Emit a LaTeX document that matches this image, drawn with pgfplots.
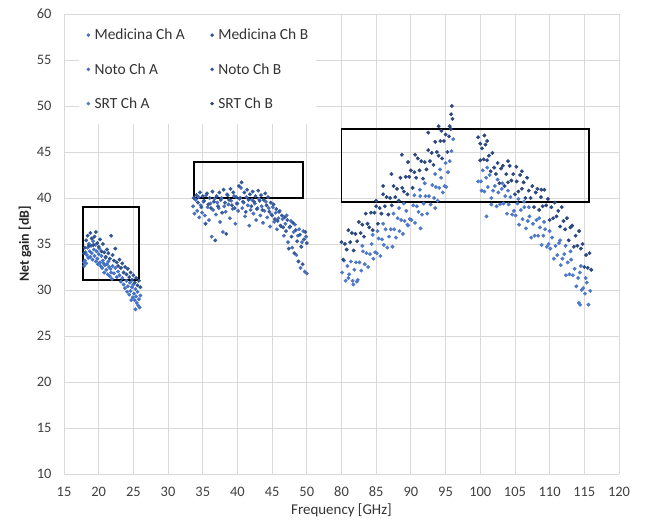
\documentclass[border=0pt]{standalone}
\usepackage{fontspec}
\setmainfont{Carlito}
\usepackage{pgfplots}
\usepackage{pgfplotstable}
\pgfplotsset{compat=1.18}

\definecolor{gridgray}{HTML}{D9D9D9}
\definecolor{medA}{HTML}{4472C4}
\definecolor{medB}{HTML}{2F528F}
\definecolor{notoA}{HTML}{4A6EBA}
\definecolor{notoB}{HTML}{34589A}
\definecolor{srtA}{HTML}{4E78C8}
\definecolor{srtB}{HTML}{2B4780}

% K band (Medicina)
\pgfplotstableread[row sep=\\]{f g\\
17.9 33.0\\ 17.9 32.6\\ 18.0 33.2\\ 18.1 34.1\\ 18.2 32.9\\ 18.3 33.8\\ 18.4 34.6\\ 18.5 33.5\\ 18.6 35.0\\ 18.7 34.2\\
18.8 33.6\\ 18.9 34.8\\ 19.0 34.0\\ 19.1 33.3\\ 19.2 35.3\\ 19.3 34.4\\ 19.4 33.7\\ 19.5 34.9\\ 19.6 33.1\\ 19.7 34.2\\
19.8 33.4\\ 19.9 32.8\\ 20.0 33.9\\ 20.1 34.5\\ 20.2 33.0\\ 20.3 32.6\\ 20.4 33.7\\ 20.5 32.4\\ 20.6 33.2\\ 20.7 32.9\\
20.8 31.9\\ 20.9 32.7\\ 21.0 33.5\\ 21.1 32.2\\ 21.2 32.8\\ 21.3 31.7\\ 21.4 33.1\\ 21.5 32.5\\ 21.6 31.5\\ 21.7 32.3\\
21.8 31.9\\ 21.9 31.2\\ 22.0 32.6\\ 22.2 31.8\\ 22.4 32.4\\ 22.6 31.4\\ 22.8 32.0\\ 23.0 31.6\\ 23.2 30.9\\ 23.4 31.3\\
23.6 30.6\\ 23.8 30.2\\ 24.0 31.0\\ 24.1 29.8\\ 24.2 30.4\\ 24.4 29.5\\ 24.5 30.8\\ 24.6 29.9\\ 24.7 28.9\\ 24.8 30.3\\
24.9 29.2\\ 25.0 30.6\\ 25.1 29.6\\ 25.2 28.9\\ 25.3 30.1\\ 25.4 29.3\\ 25.5 28.6\\ 25.6 29.8\\ 25.7 28.3\\ 25.8 29.0\\
25.9 28.1\\ 26.0 29.4\\ 25.3 27.9\\
}\medA
\pgfplotstableread[row sep=\\]{f g\\
17.9 34.0\\ 18.0 34.6\\ 18.2 35.4\\ 18.4 35.9\\ 18.6 34.8\\ 18.8 36.2\\ 19.0 35.6\\ 19.2 34.9\\ 19.4 35.8\\ 19.6 36.3\\
19.8 35.1\\ 20.0 34.7\\ 20.2 35.5\\ 20.4 34.2\\ 20.6 35.0\\ 20.8 34.1\\ 21.0 33.6\\ 21.2 34.4\\ 21.4 34.0\\ 21.6 33.4\\
21.8 35.9\\ 22.0 33.8\\ 22.2 33.2\\ 22.4 34.5\\ 22.6 33.0\\ 22.8 32.6\\ 23.0 33.3\\ 23.2 32.4\\ 23.4 32.9\\ 23.6 31.9\\
23.8 32.5\\ 24.0 31.7\\ 24.2 32.3\\ 24.4 31.4\\ 24.6 31.9\\ 24.8 31.1\\ 25.0 31.6\\ 25.2 30.8\\ 25.4 31.3\\ 25.6 30.5\\
25.8 31.0\\ 26.0 30.3\\
}\medB

% Q band (Noto)
\pgfplotstableread[row sep=\\]{f g\\
33.6 39.1\\ 33.8 38.3\\ 34.0 39.8\\ 34.2 38.6\\ 34.4 40.1\\ 34.5 37.9\\ 34.7 39.2\\ 34.9 38.4\\ 35.1 39.6\\ 35.3 38.1\\
35.5 40.3\\ 35.7 39.0\\ 35.9 37.6\\ 36.1 39.4\\ 36.3 35.8\\ 36.5 38.7\\ 36.7 39.9\\ 36.9 38.2\\ 37.1 39.5\\ 37.3 38.9\\
37.5 37.4\\ 37.7 40.0\\ 37.9 36.3\\ 38.1 39.1\\ 38.3 38.5\\ 38.5 40.4\\ 38.7 39.3\\ 38.9 37.8\\ 39.1 39.7\\ 39.3 38.8\\
39.5 40.2\\ 39.7 37.2\\ 39.9 39.4\\ 40.1 38.6\\ 40.3 39.9\\ 40.5 41.1\\ 40.7 38.9\\ 40.9 39.5\\ 41.1 38.0\\ 41.3 40.1\\
41.5 39.2\\ 41.7 37.0\\ 41.9 38.7\\ 42.1 39.8\\ 42.3 38.3\\ 42.5 39.4\\ 42.7 37.6\\ 42.9 38.9\\ 43.1 39.9\\ 43.3 38.1\\
43.5 39.1\\ 43.7 37.3\\ 43.9 38.6\\ 44.1 39.6\\ 44.3 37.9\\ 44.5 38.9\\ 44.7 36.9\\ 44.9 38.2\\ 45.1 39.0\\ 45.3 37.4\\
45.5 38.4\\ 45.7 36.6\\ 45.9 37.8\\ 46.1 38.6\\ 46.3 36.9\\ 46.5 37.7\\ 46.7 35.9\\ 46.9 37.2\\ 47.1 38.1\\ 47.3 35.2\\
47.5 36.8\\ 47.7 37.5\\ 47.9 34.6\\ 48.1 36.3\\ 48.3 37.1\\ 48.5 33.8\\ 48.7 35.9\\ 48.9 36.6\\ 49.1 32.4\\ 49.3 35.2\\
49.5 36.4\\ 49.7 32.0\\ 49.9 35.8\\ 50.0 31.8\\
}\notoA
\pgfplotstableread[row sep=\\]{f g\\
33.7 40.0\\ 34.1 40.3\\ 34.3 39.5\\ 34.6 40.6\\ 34.8 39.0\\ 35.0 40.2\\ 35.2 39.7\\ 35.4 37.2\\ 35.6 40.5\\ 35.8 39.3\\
36.0 40.0\\ 36.2 38.9\\ 36.4 40.7\\ 36.6 39.6\\ 36.8 35.4\\ 37.0 40.2\\ 37.2 39.1\\ 37.4 40.6\\ 37.6 39.8\\ 37.8 38.4\\
38.0 40.9\\ 38.2 39.5\\ 38.4 36.1\\ 38.6 40.3\\ 38.8 39.8\\ 39.0 41.0\\ 39.2 39.2\\ 39.4 40.6\\ 39.6 38.9\\ 39.8 40.1\\
40.0 39.4\\ 40.2 41.3\\ 40.4 40.0\\ 40.6 41.7\\ 40.8 39.6\\ 41.0 40.6\\ 41.2 38.5\\ 41.4 40.9\\ 41.6 39.8\\ 41.8 40.4\\
42.0 39.1\\ 42.2 40.7\\ 42.4 39.6\\ 42.6 40.2\\ 42.8 38.8\\ 43.0 40.8\\ 43.2 39.7\\ 43.4 40.3\\ 43.6 38.7\\ 43.8 39.8\\
44.0 40.5\\ 44.2 39.2\\ 44.4 40.1\\ 44.6 38.5\\ 44.8 39.5\\ 45.0 38.1\\ 45.2 39.3\\ 45.4 37.7\\ 45.6 38.8\\ 45.8 37.5\\
46.0 38.5\\ 46.2 37.0\\ 46.4 38.1\\ 46.6 36.8\\ 46.8 37.9\\ 47.0 36.4\\ 47.2 37.6\\ 47.4 34.5\\ 47.6 36.9\\ 47.8 35.8\\
48.0 37.3\\ 48.2 34.0\\ 48.4 36.5\\ 48.6 35.3\\ 48.8 33.1\\ 49.0 36.0\\ 49.2 34.7\\ 49.4 32.8\\ 49.6 35.5\\ 49.8 36.3\\
50.0 35.1\\
}\notoB

% W band (SRT)
\pgfplotstableread[row sep=\\]{f g\\
80.10 31.9\\ 80.35 33.2\\ 80.60 31.0\\ 80.85 32.6\\ 81.10 31.7\\ 81.35 33.1\\ 81.60 31.0\\ 81.85 32.2\\ 82.10 33.0\\ 82.35 31.1\\
82.60 33.0\\ 82.85 32.1\\ 83.10 34.2\\ 83.35 32.8\\ 83.60 34.0\\ 83.85 32.5\\ 84.10 33.9\\ 84.35 35.0\\ 84.60 33.4\\ 84.85 34.1\\
85.10 34.0\\ 85.35 35.6\\ 85.60 33.7\\ 85.85 35.5\\ 86.10 34.9\\ 86.35 36.6\\ 86.60 34.6\\ 86.85 35.8\\ 87.10 36.6\\ 87.35 34.7\\
87.60 36.6\\ 87.85 35.7\\ 88.10 37.8\\ 88.35 36.4\\ 88.60 37.6\\ 88.85 36.1\\ 89.10 37.5\\ 89.35 38.6\\ 89.60 37.0\\ 89.85 37.7\\
90.10 37.6\\ 90.35 39.2\\ 90.60 37.3\\ 90.85 39.1\\ 91.10 38.5\\ 91.35 40.2\\ 91.60 38.2\\ 91.85 39.4\\ 92.10 40.2\\ 92.35 38.3\\
92.60 40.2\\ 92.85 39.3\\ 93.10 41.4\\ 93.35 40.0\\ 93.60 41.2\\ 93.85 39.7\\ 94.10 41.1\\ 94.35 42.2\\ 94.60 40.6\\ 94.85 41.3\\
95.10 41.2\\ 95.35 42.8\\ 95.60 44.0\\ 95.85 45.1\\ 96.10 46.4\\
81.7 30.6\\ 82.2 30.9\\ 81.0 31.3\\ 93.5 38.9\\ 91.4 36.7\\ 89.5 37.1\\
83.0 34.8\\ 84.5 36.0\\ 86.0 37.2\\ 87.5 38.3\\ 89.0 39.4\\ 90.5 40.3\\ 92.0 41.6\\ 93.5 42.6\\ 95.0 43.8\\ 85.2 36.4\\
88.3 38.9\\ 91.3 40.9\\ 94.2 43.1\\
100.10 41.8\\ 100.35 43.0\\ 100.60 40.7\\ 100.85 42.2\\ 101.10 41.2\\ 101.35 42.5\\ 101.60 40.0\\ 101.85 40.8\\ 102.10 41.3\\ 102.35 39.1\\
102.60 40.6\\ 102.85 39.3\\ 103.10 41.0\\ 103.35 39.4\\ 103.60 40.2\\ 103.85 38.3\\ 104.10 39.3\\ 104.35 40.1\\ 104.60 38.2\\ 104.85 38.6\\
105.10 38.1\\ 105.35 39.4\\ 105.60 37.1\\ 105.85 38.7\\ 106.10 37.7\\ 106.35 39.0\\ 106.60 36.7\\ 106.85 37.5\\ 107.10 38.0\\ 107.35 35.7\\
107.60 37.2\\ 107.85 35.9\\ 108.10 37.6\\ 108.35 35.9\\ 108.60 36.8\\ 108.85 34.9\\ 109.10 35.9\\ 109.35 36.6\\ 109.60 34.7\\ 109.85 35.0\\
110.10 34.5\\ 110.35 35.7\\ 110.60 33.4\\ 110.85 34.8\\ 111.10 33.8\\ 111.35 35.1\\ 111.60 32.7\\ 111.85 33.4\\ 112.10 33.9\\ 112.35 31.6\\
112.60 33.0\\ 112.85 31.7\\ 113.10 33.3\\ 113.35 31.6\\ 113.60 32.3\\ 113.85 30.4\\ 114.10 31.3\\ 114.35 31.9\\ 114.60 30.0\\ 114.85 30.2\\
115.10 29.6\\ 115.35 30.8\\ 115.60 28.4\\ 115.85 29.9\\
114.4 28.4\\ 114.2 28.6\\ 100.9 38.0\\ 101.6 39.3\\ 99.7 41.8\\ 100.2 40.8\\
101.0 43.3\\ 102.5 42.0\\ 104.0 40.8\\ 105.5 39.9\\ 107.0 39.0\\ 108.5 37.8\\ 110.0 36.4\\ 111.5 35.4\\ 113.0 34.2\\ 114.5 32.6\\
103.2 41.6\\ 106.3 39.6\\ 109.2 37.4\\ 112.3 34.8\\ 115.2 31.3\\
}\srtA
\pgfplotstableread[row sep=\\]{f g\\
80.00 35.2\\ 80.25 33.3\\ 80.50 35.0\\ 80.75 34.4\\ 81.00 36.5\\ 81.25 35.2\\ 81.50 36.2\\ 81.75 34.3\\ 82.00 36.1\\ 82.25 35.3\\
82.50 37.4\\ 82.75 36.2\\ 83.00 37.1\\ 83.25 35.8\\ 83.50 38.3\\ 83.75 37.2\\ 84.00 36.8\\ 84.25 38.4\\ 84.50 36.5\\ 84.75 38.4\\
85.00 39.1\\ 85.25 37.2\\ 85.50 38.9\\ 85.75 38.3\\ 86.00 40.4\\ 86.25 39.1\\ 86.50 40.1\\ 86.75 38.2\\ 87.00 40.0\\ 87.25 39.2\\
87.50 41.3\\ 87.75 40.1\\ 88.00 41.0\\ 88.25 39.7\\ 88.50 42.2\\ 88.75 41.1\\ 89.00 40.7\\ 89.25 42.3\\ 89.50 40.4\\ 89.75 42.3\\
90.00 43.0\\ 90.25 41.1\\ 90.50 42.8\\ 90.75 42.2\\ 91.00 44.3\\ 91.25 43.0\\ 91.50 44.0\\ 91.75 42.1\\ 92.00 43.9\\ 92.25 43.1\\
92.50 45.2\\ 92.75 44.0\\ 93.00 44.9\\ 93.25 43.6\\ 93.50 46.1\\ 93.75 45.0\\ 94.00 44.6\\ 94.25 46.2\\ 94.50 44.3\\ 94.75 46.2\\
95.00 46.9\\ 95.25 45.0\\ 95.50 46.7\\ 95.75 47.5\\ 96.00 48.6\\
88.7 44.7\\ 90.6 44.7\\ 92.5 47.1\\ 94.0 47.8\\ 94.4 47.3\\ 95.6 47.8\\ 95.8 49.1\\ 95.9 50.0\\ 86.0 41.3\\ 85.0 39.7\\
87.2 42.6\\ 89.6 43.9\\
100.00 44.1\\ 100.25 45.4\\ 100.50 44.2\\ 100.75 45.8\\ 101.00 44.1\\ 101.25 44.6\\ 101.50 42.9\\ 101.75 44.9\\ 102.00 43.3\\ 102.25 42.6\\
102.50 43.8\\ 102.75 41.6\\ 103.00 43.2\\ 103.25 43.5\\ 103.50 41.3\\ 103.75 42.6\\ 104.00 41.7\\ 104.25 43.5\\ 104.50 41.9\\ 104.75 42.6\\
105.00 40.4\\ 105.25 41.8\\ 105.50 40.7\\ 105.75 42.5\\ 106.00 41.0\\ 106.25 41.7\\ 106.50 40.0\\ 106.75 42.2\\ 107.00 40.8\\ 107.25 40.0\\
107.50 41.3\\ 107.75 39.0\\ 108.00 40.6\\ 108.25 41.0\\ 108.50 38.7\\ 108.75 40.1\\ 109.00 39.1\\ 109.25 40.9\\ 109.50 39.2\\ 109.75 39.9\\
110.00 37.6\\ 110.25 39.0\\ 110.50 37.8\\ 110.75 39.5\\ 111.00 38.0\\ 111.25 38.6\\ 111.50 36.9\\ 111.75 39.0\\ 112.00 37.5\\ 112.25 36.6\\
112.50 37.8\\ 112.75 35.4\\ 113.00 36.8\\ 113.25 37.0\\ 113.50 34.7\\ 113.75 35.9\\ 114.00 34.8\\ 114.25 36.4\\ 114.50 34.5\\ 114.75 35.0\\
115.00 32.5\\ 115.25 33.8\\ 115.50 32.4\\ 115.75 34.0\\ 116.00 32.2\\
99.7 46.6\\ 100.0 45.9\\ 100.6 46.8\\ 101.0 46.2\\ 104.0 44.0\\ 105.2 43.4\\ 106.0 42.9\\ 108.8 40.9\\
}\srtB

\begin{document}
\begin{tikzpicture}
\pgfplotsset{
  dots/.style={only marks, mark=*, mark size=1.75bp, color=#1,
    mark options={draw=#1, fill=#1},
    legend image code/.code={\fill[#1] (0bp,0bp) circle (1.6bp); \path (-3bp,0bp) (4bp,0bp);}},
  /pgfplots/table/lowband/.style={x expr=(\thisrow{f}-15)/5, y=g},
  /pgfplots/table/highband/.style={x expr=(\thisrow{f}-80)/5+8, y=g},
}
\begin{axis}[
  name=ax,
  scale only axis,
  width=555bp, height=460bp,
  xmin=0, xmax=16, ymin=10, ymax=60,
  xtick={0,...,16},
  xticklabels={15,20,25,30,35,40,45,50,80,85,90,95,100,105,110,115,120},
  ytick={10,15,...,60},
  grid=major,
  major grid style={draw=gridgray, line width=0.8bp},
  axis line style={draw=none},
  major tick length=0pt,
  /pgf/number format/assume math mode=true,
  tick label style={font=\fontsize{14.5}{17}\selectfont, text=black!75},
  xticklabel style={anchor=center, yshift=-18bp},
  yticklabel style={anchor=east, xshift=-9bp},
  xlabel={Frequency [GHz]},
  ylabel={\bfseries Net gain [dB]},
  every axis x label/.style={at={(rel axis cs:0.5,0)}, anchor=center, yshift=-36bp,
    font=\fontsize{15}{17}\selectfont, text=black!80},
  every axis y label/.style={at={(rel axis cs:0,0.5)}, xshift=-39bp, rotate=90, anchor=center,
    font=\fontsize{14}{16}\selectfont, text=black!85},
  legend columns=2,
  legend cell align=left,
  legend style={at={(rel axis cs:0.027,0.998)}, anchor=north west,
    draw=none, fill=white, font=\fontsize{15.5}{18}\selectfont, text=black!80,
    /tikz/every even column/.append style={column sep=22bp},
    row sep=18bp, inner xsep=6bp, inner ysep=12bp},
]
\addplot[dots=medA] table[lowband] {\medA};
\addlegendentry{Medicina Ch A}
\addplot[dots=medB] table[lowband] {\medB};
\addlegendentry{Medicina Ch B}
\addplot[dots=notoA] table[lowband] {\notoA};
\addlegendentry{Noto Ch A}
\addplot[dots=notoB] table[lowband] {\notoB};
\addlegendentry{Noto Ch B}
\addplot[dots=srtA] table[highband] {\srtA};
\addlegendentry{SRT Ch A}
\addplot[dots=srtB] table[highband] {\srtB};
\addlegendentry{SRT Ch B}

% boxes, x already in axis units (15->0, 50->7, 80->8, 120->16)
\addplot[forget plot, black, line width=1.8bp, line join=miter] coordinates {(0.54,31.05) (2.16,31.05) (2.16,39.05) (0.54,39.05) (0.54,31.05) (2.16,31.05)};
\addplot[forget plot, black, line width=1.8bp, line join=miter] coordinates {(3.74,40.03) (6.9,40.03) (6.9,43.95) (3.74,43.95) (3.74,40.03) (6.9,40.03)};
\addplot[forget plot, black, line width=1.8bp, line join=miter] coordinates {(8,39.57) (15.14,39.57) (15.14,47.47) (8,47.47) (8,39.57) (15.14,39.57)};
\end{axis}
\path (ax.south west) ++(-64bp,-44bp) rectangle ([xshift=26bp,yshift=14bp]ax.north east);
\end{tikzpicture}
\end{document}
